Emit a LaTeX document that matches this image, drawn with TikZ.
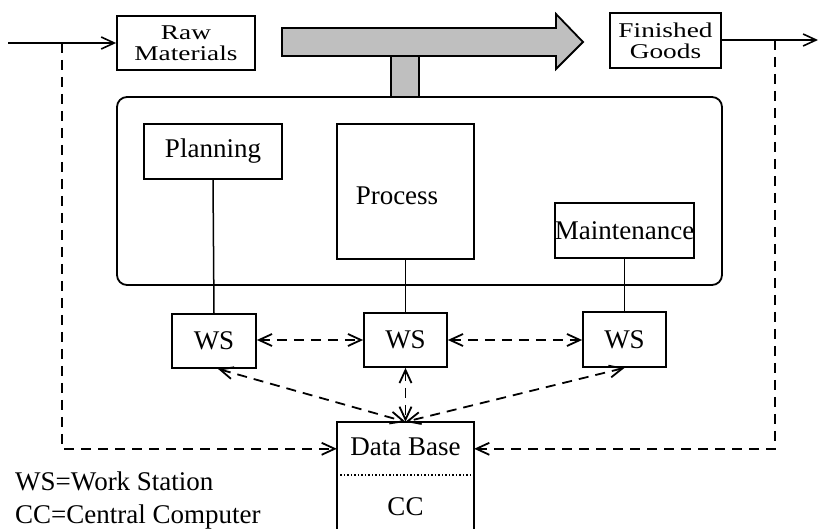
\documentclass[tikz,border=0pt]{standalone}
\usepackage{fontspec}
\setmainfont{Liberation Serif}
\newfontfamily\widefont[FakeStretch=1.3]{Liberation Serif}
\usetikzlibrary{arrows.meta}

\tikzset{
  barb/.tip={Straight Barb[length=13pt,width=12pt]},
  box/.style={draw, line width=1.8pt, inner sep=0pt, rectangle,
    font=\fontsize{27}{30}\selectfont},
  labelbox/.style={box, align=center,
    font=\widefont\fontsize{21}{21}\selectfont},
  wire/.style={line width=1.5pt},
  flow/.style={line width=1.6pt, -barb},
  dlink/.style={line width=1.8pt, dash pattern=on 10pt off 7pt},
  shade/.style={fill=gray!50, draw, line width=1.8pt},
  txt/.style={inner sep=0pt, font=\fontsize{27}{30}\selectfont},
}

\begin{document}
\begin{tikzpicture}[x=1pt, y=-1pt]
\useasboundingbox (0,0) rectangle (820,529);

% material flow: shaded arrow and its stem into the plant
\draw[shade] (282,28) -- (556,28) -- (556,14) -- (583,42) -- (556,69)
  -- (556,56) -- (282,56) -- cycle;
\draw[shade] (391,56) rectangle (419,97);

% plant enclosure
\node[draw, line width=1.8pt, rounded corners=10pt, minimum width=605pt,
  minimum height=188pt, inner sep=0pt] (plant) at (419.5,191) {};

% input and output goods
\node[labelbox, minimum width=138pt, minimum height=54pt] (raw) at (186,43)
  {Raw\\Materials};
\node[labelbox, minimum width=111pt, minimum height=55pt] (fin) at (665.5,40.5)
  {Finished\\Goods};

% functional units
\node[box, minimum width=138pt, minimum height=55pt] (pl) at (213,151.5) {Planning};
\node[box, minimum width=137pt, minimum height=135pt] (pr) at (405.5,191.5) {};
\node[txt] (prt) at (397,196) {Process};
\node[box, minimum width=137pt, minimum height=55pt] (mt) at (624.5,230.5) {Maintenance};

% work stations
\node[box, minimum width=84pt, minimum height=54pt] (ws1) at (214,341) {WS};
\node[box, minimum width=83pt, minimum height=54pt] (ws2) at (405.5,340) {WS};
\node[box, minimum width=83pt, minimum height=55pt] (ws3) at (624.5,339.5) {WS};

% central computer with its data base (open towards the bottom edge)
\node[minimum width=137pt, minimum height=107pt, inner sep=0pt] (db) at (405.5,475.5) {};
\draw[line width=1.8pt] (db.south west) -- (db.north west) -- (db.north east) -- (db.south east);
\draw[line width=1.5pt, dotted] ([yshift=-53pt]db.north west) -- ([yshift=-53pt]db.north east);
\node[txt] (dbt) at ([yshift=-25pt]db.north) {Data Base};
\node[txt] (cct) at ([yshift=-85pt]db.north) {CC};

% units to work stations
\draw[wire] (pl.south) -- (ws1.north);
\draw[wire] (pr.south) -- (ws2.north);
\draw[wire] (mt.south) -- (ws3.north);

% goods in and out
\coordinate (in) at (8,43);
\coordinate (out) at (818,40);
\draw[flow] (in) -- (raw);
\draw[flow] (fin.east |- out) -- (out);

% reporting lines to the data base
\coordinate (jl) at (62,43);
\coordinate (jr) at (775,40);
\draw[dlink, -barb] (jl) |- ([yshift=-27pt]db.north west);
\draw[dlink, -barb] (jr) |- ([yshift=-27pt]db.north east);

% communication between work stations and central computer
\draw[dlink, barb-barb] (ws1.east |- ws2) -- (ws2.west);
\draw[dlink, barb-barb] (ws2.east) -- (ws3.west |- ws2);
\draw[dlink, barb-barb] ([xshift=4pt]ws1.south) -- (db.north);
\draw[dlink, barb-barb] (ws2.south) -- (db.north);
\draw[dlink, barb-barb] (ws3.south) -- (db.north);

% legend
\node[txt, anchor=base west] (leg1) at (15,490) {WS=Work Station};
\node[txt, anchor=base west] (leg2) at (15,523) {CC=Central Computer};
\end{tikzpicture}
\end{document}
